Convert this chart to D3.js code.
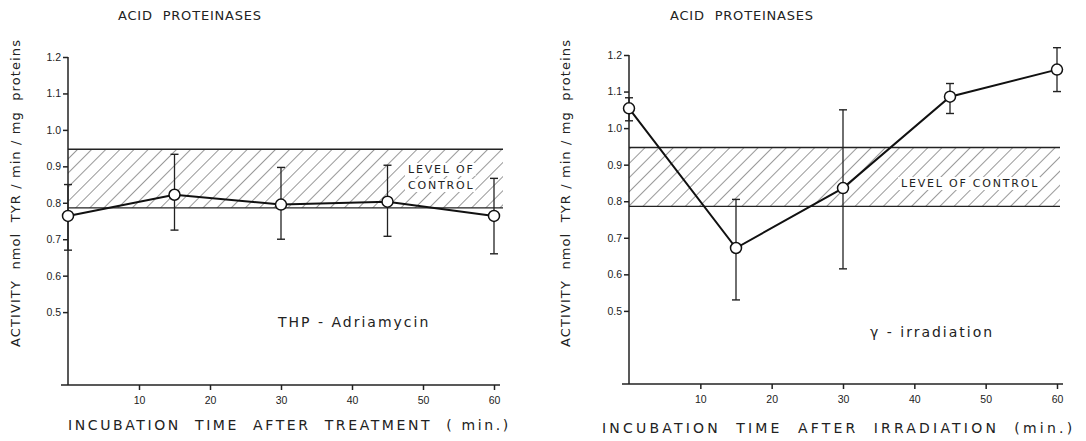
<!DOCTYPE html>
<html>
<head>
<meta charset="utf-8">
<script src="https://cdn.jsdelivr.net/npm/d3@7"></script>
<style>
  body { margin: 0; background: #fff; }
  svg { display: block; font-family: "DejaVu Sans", sans-serif; }
  .tick text { font-size: 10.5px; fill: #222; }
  .domain, .tick line { stroke: #222; stroke-width: 1.5; }
  .pre { white-space: pre; }
</style>
</head>
<body>
<div id="chart"></div>
<script>
// data
const times = [0, 15, 30, 45, 60]
const xTicks = [10, 20, 30, 40, 50, 60]
const yTicks = [0.5, 0.6, 0.7, 0.8, 0.9, 1.0, 1.1, 1.2]
const controlBand = [0.786, 0.947]

// THP-Adriamycin
const thpMean = [0.764, 0.822, 0.795, 0.803, 0.764]
const thpLow = [0.67, 0.725, 0.70, 0.708, 0.66]
const thpHigh = [0.85, 0.933, 0.897, 0.903, 0.867]

// gamma irradiation
const gamMean = [1.054, 0.672, 0.836, 1.086, 1.16]
const gamLow = [1.02, 0.53, 0.615, 1.04, 1.10]
const gamHigh = [1.083, 0.805, 1.05, 1.122, 1.22]

const width = 1086
const height = 441

const svg = d3.select('#chart').append('svg')
  .attr('width', width)
  .attr('height', height)

// hatch pattern for control level
const defs = svg.append('defs')
defs.append('pattern')
  .attr('id', 'hatch')
  .attr('patternUnits', 'userSpaceOnUse')
  .attr('width', 10)
  .attr('height', 10)
  .attr('patternTransform', 'rotate(45)')
  .append('line')
  .attr('x1', 0).attr('y1', 0).attr('x2', 0).attr('y2', 10)
  .attr('stroke', '#333')
  .attr('stroke-width', 1)

function drawPanel (p) {
  const g = svg.append('g')
  const x = d3.scaleLinear().domain([0, 60]).range([p.x0, p.x60])
  const y = d3.scaleLinear().domain([0.3, 1.2]).range([p.yBottom, p.yTop])

  // title
  g.append('text')
    .attr('class', 'pre')
    .attr('x', p.titleX).attr('y', 20)
    .attr('font-size', 13)
    .attr('letter-spacing', 0.8)
    .attr('fill', '#222')
    .text('ACID  PROTEINASES')

  // control band
  g.append('rect')
    .attr('x', x(0))
    .attr('y', y(controlBand[1]))
    .attr('width', p.bandEnd - x(0))
    .attr('height', y(controlBand[0]) - y(controlBand[1]))
    .attr('fill', 'url(#hatch)')
  controlBand.forEach(v => {
    g.append('line')
      .attr('x1', x(0)).attr('x2', p.bandEnd)
      .attr('y1', y(v)).attr('y2', y(v))
      .attr('stroke', '#222').attr('stroke-width', 1.4)
  })
  // label inside the band, on a white backing
  p.levelLines.forEach((t, i) => {
    const tx = g.append('text')
      .attr('x', p.levelX).attr('y', p.levelY + i * 16)
      .attr('font-size', 11)
      .attr('letter-spacing', 1.8)
      .attr('fill', '#222')
      .text(t)
    const bb = tx.node().getBBox()
    g.insert('rect', () => tx.node())
      .attr('x', bb.x - 3).attr('y', bb.y)
      .attr('width', bb.width + 4).attr('height', bb.height)
      .attr('fill', '#fff')
  })

  // y axis
  const yAxis = g.append('g')
    .attr('transform', `translate(${x(0)},0)`)
    .call(d3.axisLeft(y).tickValues(yTicks).tickSize(5).tickSizeOuter(0)
      .tickFormat(d => d3.format('.1f')(d)))
  yAxis.select('.domain').attr('d', `M0,${y(1.2)}V${p.yBottom}`)
  yAxis.selectAll('.tick text').attr('x', -7)

  // x axis
  const xAxis = g.append('g')
    .attr('transform', `translate(0,${p.yBottom})`)
    .call(d3.axisBottom(x).tickValues(xTicks).tickSize(5).tickSizeOuter(0))
  xAxis.select('.domain').attr('d', `M${x(0) - 7},0H${x(60) + 6}`)
  xAxis.selectAll('.tick text').attr('y', 12)

  // error bars
  const eb = g.append('g')
  times.forEach((t, i) => {
    const cx = x(t)
    eb.append('line')
      .attr('x1', cx).attr('x2', cx)
      .attr('y1', y(p.high[i])).attr('y2', y(p.low[i]))
      .attr('stroke', '#222').attr('stroke-width', 1.3)
    ;[p.high[i], p.low[i]].forEach(v => {
      eb.append('line')
        .attr('x1', cx - 4).attr('x2', cx + 4)
        .attr('y1', y(v)).attr('y2', y(v))
        .attr('stroke', '#222').attr('stroke-width', 1.4)
    })
  })

  // mean line
  const line = d3.line().x((d, i) => x(times[i])).y(d => y(d))
  g.append('path')
    .attr('d', line(p.mean))
    .attr('fill', 'none')
    .attr('stroke', '#111')
    .attr('stroke-width', 2)

  g.selectAll('circle.pt').data(p.mean).enter()
    .append('circle')
    .attr('class', 'pt')
    .attr('cx', (d, i) => x(times[i]))
    .attr('cy', d => y(d))
    .attr('r', 5.5)
    .attr('fill', '#fff')
    .attr('stroke', '#111')
    .attr('stroke-width', 1.5)

  // treatment label
  g.append('text')
    .attr('x', p.treatX).attr('y', p.treatY)
    .attr('font-size', 14)
    .attr('letter-spacing', 2)
    .attr('fill', '#222')
    .text(p.treatment)

  // y axis title
  g.append('text')
    .attr('class', 'pre')
    .attr('transform', `translate(${p.yTitleX},${p.yTitleY}) rotate(-90)`)
    .attr('text-anchor', 'middle')
    .attr('font-size', 13)
    .attr('letter-spacing', 1.1)
    .attr('fill', '#222')
    .text('ACTIVITY  nmol  TYR / min / mg  proteins')

  // x axis title
  g.append('text')
    .attr('class', 'pre')
    .attr('x', p.xTitleX).attr('y', p.xTitleY)
    .attr('font-size', 14)
    .attr('letter-spacing', p.xTitleSpacing)
    .attr('fill', '#222')
    .text(p.xTitle)
}

drawPanel({
  x0: 68, x60: 494, yBottom: 385, yTop: 57, bandEnd: 503,
  titleX: 118,
  mean: thpMean, low: thpLow, high: thpHigh,
  levelLines: ['LEVEL OF', 'CONTROL'], levelX: 408, levelY: 173,
  treatment: 'THP - Adriamycin', treatX: 278, treatY: 327,
  yTitleX: 20, yTitleY: 193,
  xTitle: 'INCUBATION  TIME  AFTER  TREATMENT  ( min.)', xTitleX: 68, xTitleY: 430, xTitleSpacing: 2.6
})

drawPanel({
  x0: 629, x60: 1057, yBottom: 384, yTop: 55, bandEnd: 1060,
  titleX: 670,
  mean: gamMean, low: gamLow, high: gamHigh,
  levelLines: ['LEVEL OF CONTROL'], levelX: 901, levelY: 187,
  treatment: 'γ - irradiation', treatX: 870, treatY: 337,
  yTitleX: 570, yTitleY: 193,
  xTitle: 'INCUBATION  TIME  AFTER  IRRADIATION  (min.)', xTitleX: 602, xTitleY: 433, xTitleSpacing: 3.2
})
</script>
</body>
</html>
